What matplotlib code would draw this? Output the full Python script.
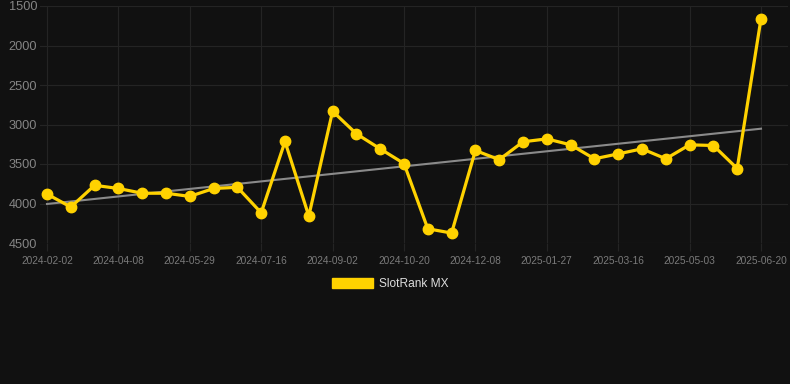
import matplotlib
matplotlib.use("Agg")
import matplotlib.pyplot as plt
import numpy as np
from matplotlib.patches import Patch

# ---- data ----
tick_labels = ["2024-02-02", "2024-04-08", "2024-05-29", "2024-07-16", "2024-09-02",
               "2024-10-20", "2024-12-08", "2025-01-27", "2025-03-16", "2025-05-03",
               "2025-06-20"]
rank_values = [3880, 4045, 3770, 3810, 3870, 3870, 3910, 3810, 3795, 4118,
               3215, 4158, 2832, 3118, 3308, 3494, 4320, 4374, 3329, 3445,
               3219, 3182, 3257, 3434, 3372, 3308, 3434, 3257, 3266, 3557,
               1661]
series_name = "SlotRank MX"
y_ticks = [1500, 2000, 2500, 3000, 3500, 4000, 4500]

BG = "#111111"
YELLOW = "#FFD200"
GRID = "#242424"

fig = plt.figure(figsize=(7.9, 3.84), dpi=100, facecolor=BG)
W, H = 790, 384
ax = fig.add_axes([40 / W, 1 - 243 / H, (788 - 40) / W, (243 - 6) / H])
ax.set_facecolor(BG)

x = np.arange(len(rank_values))
y = np.array(rank_values, dtype=float)

# trend line (linear regression)
coef = np.polyfit(x, y, 1)
ax.plot([x[0], x[-1]], np.polyval(coef, [x[0], x[-1]]), color="#8a8a8a", lw=1.5, zorder=2)

ax.plot(x, y, color=YELLOW, lw=2.3, marker="o", markersize=7.5, zorder=3,
        solid_joinstyle="round")

ax.set_ylim(4500, 1500)
ax.set_yticks(y_ticks)
ax.set_yticklabels([str(v) for v in y_ticks])
px = (761 - 47) / (len(rank_values) - 1)
ax.set_xlim(-7 / px, (len(rank_values) - 1) + 27 / px)
tick_pos = list(range(0, len(rank_values), 3))
ax.set_xticks(tick_pos)
ax.set_xticklabels(tick_labels)

for s in ax.spines.values():
    s.set_visible(False)
ax.grid(True, color=GRID, lw=0.8, zorder=0)
ax.tick_params(axis="y", length=0, pad=2, labelsize=9.2, labelcolor="#858585")
ax.tick_params(axis="x", length=6, color=GRID, pad=3, labelsize=7.3, labelcolor="#7a7a7a")
for lab in ax.get_xticklabels() + ax.get_yticklabels():
    lab.set_fontfamily("Liberation Sans")

handle = Patch(facecolor=YELLOW, edgecolor=YELLOW)
leg = fig.legend([handle], [series_name], loc="center", bbox_to_anchor=(390 / W, 1 - 284 / H),
                 frameon=False, handlelength=3.4, handleheight=0.95, handletextpad=0.5,
                 prop={"family": "Liberation Sans", "size": 8.6})
for t in leg.get_texts():
    t.set_color("#dddddd")

fig.savefig("out.png", dpi=100, facecolor=BG)
